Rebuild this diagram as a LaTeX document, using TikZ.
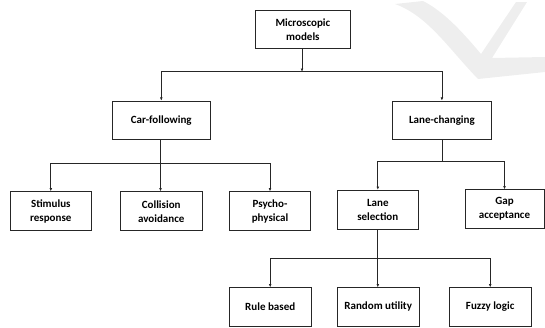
\documentclass[tikz,border=0pt]{standalone}
\usepackage{fontspec}
\setmainfont{Carlito}
\usetikzlibrary{arrows.meta}
\begin{document}
\begin{tikzpicture}[x=1pt,y=-1pt,
  box/.style={draw=black!85,line width=0.9pt,rectangle,align=center,inner sep=0pt,
    font=\bfseries\fontsize{11}{14}\selectfont,minimum width=81.5pt,minimum height=39pt},
  conn/.style={draw=black!85,line width=0.8pt},
  arr/.style={conn,-{Latex[length=3.2pt,width=2.8pt]}}]
\useasboundingbox (0,0) rectangle (545,327);
% watermark swoosh
\fill[gray!13] (395,4) .. controls (428,16) and (448,48) .. (478,79) -- (545,72) -- (545,57) -- (492,58) -- (527,2) -- (516,2) -- (481,54) .. controls (465,35) and (445,12) .. (423,1) -- cycle;
% nodes
\node[box,minimum width=95.7pt,minimum height=38.3pt] (micro) at (302.9,29.2) {Microscopic\\models};
\node[box,minimum width=97.3pt,minimum height=38.3pt] (cf) at (161.3,120.2) {Car-following};
\node[box,minimum width=98.3pt,minimum height=38.3pt] (lc) at (441.9,120.2) {Lane-changing};
\node[box] (stim) at (50.8,211.2) {Stimulus\\response};
\node[box] (coll) at (161.2,211.2) {Collision\\avoidance};
\node[box] (psy) at (270,211.2) {Psycho-\\physical};
\node[box] (ls) at (377.8,209.7) {Lane\\selection};
\node[box,minimum width=79pt] (gap) at (504.5,209.2) {Gap\\acceptance};
\node[box,minimum height=38.3pt] (rule) at (270.2,306.9) {Rule based};
\node[box,minimum height=38.3pt] (rand) at (378.2,306.9) {Random utility};
\node[box,minimum height=38.3pt] (fuzzy) at (490.2,306.9) {Fuzzy logic};
% junctions
\coordinate (j1) at (302,71.7);
\coordinate (j2) at (160.5,163.3);
\coordinate (j3) at (442.3,161);
\coordinate (j4) at (377.8,258.3);
% connectors
\draw[arr] (micro.south -| j1) -- (j1);
\draw[arr] (j1) -| (cf.north);
\draw[arr] (j1) -| (lc.north);
\draw[conn] (cf.south -| j2) -- (j2);
\draw[arr] (j2) -| (stim.north);
\draw[arr] (j2) -- (coll.north -| j2);
\draw[arr] (j2) -| (psy.north);
\draw[conn] (lc.south -| j3) -- (j3);
\draw[arr] (j3) -| (ls.north);
\draw[arr] (j3) -| (gap.north);
\draw[conn] (ls.south) -- (j4);
\draw[arr] (j4) -| (rule.north);
\draw[arr] (j4) -- (rand.north -| j4);
\draw[arr] (j4) -| (fuzzy.north);
\end{tikzpicture}
\end{document}
